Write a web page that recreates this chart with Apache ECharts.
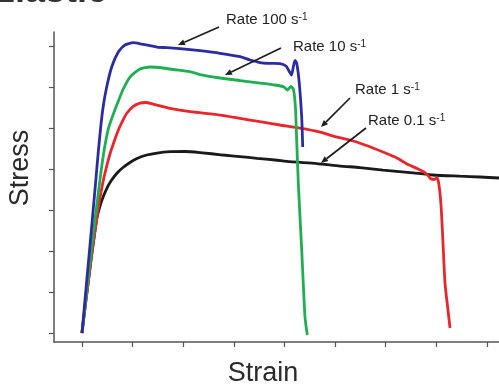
<!DOCTYPE html>
<html><head><meta charset="utf-8">
<script src="https://cdn.jsdelivr.net/npm/echarts@6/dist/echarts.min.js"></script>
<style>html,body{margin:0;padding:0;background:#fff}#c{width:499px;height:392px}</style>
</head><body><div id="c"></div>
<script>
// ---- data (strain, stress in arbitrary tick units) ----
const xTicks = [0, 1, 2, 3, 4, 5, 6, 7, 8];
const yTicks = [0, 1, 2, 3, 4, 5, 6, 7];
const xRange = [-0.553, 8.241];
const yRange = [-0.22, 7.36];

const rate100 = [[0,0],[0.099,1.345],[0.198,2.689],[0.277,3.790],[0.322,4.425],[0.366,4.988],[0.415,5.501],[0.484,5.990],[0.587,6.504],[0.717,6.870],[0.850,7.042],[1.008,7.098],[1.180,7.066],[1.344,7.029],[1.502,6.985],[1.680,6.980],[1.937,6.956],[2.332,6.902],[2.727,6.839],[3.123,6.756],[3.320,6.675],[3.518,6.614],[3.715,6.594],[3.913,6.589],[4.032,6.528],[4.091,6.406],[4.140,6.308],[4.176,6.504],[4.209,6.663],[4.243,6.601],[4.294,6.112],[4.342,5.281],[4.362,4.548]];
const rate10 = [[0,0],[0.079,0.856],[0.158,1.736],[0.237,2.567],[0.306,3.252],[0.375,3.936],[0.445,4.523],[0.524,5.012],[0.613,5.330],[0.711,5.648],[0.816,5.966],[0.949,6.259],[1.146,6.455],[1.344,6.504],[1.542,6.492],[1.798,6.443],[2.134,6.389],[2.332,6.320],[2.727,6.235],[3.123,6.173],[3.518,6.112],[3.814,6.064],[3.992,6.015],[4.061,5.941],[4.130,6.027],[4.180,5.954],[4.219,5.501],[4.239,4.841],[4.275,3.667],[4.342,2.029],[4.407,0.391],[4.453,-0.049]];
const rate1 = [[0,0],[0.059,0.611],[0.119,1.198],[0.178,1.785],[0.237,2.323],[0.296,2.836],[0.356,3.301],[0.415,3.692],[0.484,4.059],[0.553,4.377],[0.632,4.670],[0.711,4.939],[0.791,5.159],[0.889,5.379],[1.008,5.538],[1.146,5.623],[1.265,5.636],[1.403,5.599],[1.739,5.494],[2.134,5.411],[2.727,5.330],[3.123,5.249],[3.518,5.166],[3.913,5.086],[4.308,5.012],[4.704,4.914],[5.000,4.804],[5.296,4.719],[5.593,4.597],[5.949,4.425],[6.225,4.279],[6.423,4.132],[6.621,4.022],[6.759,3.936],[6.838,3.851],[6.887,3.778],[6.957,3.753],[7.016,3.802],[7.055,3.619],[7.095,3.130],[7.125,2.445],[7.174,1.222],[7.233,0.562],[7.273,0.122]];
const rate01 = [[0,0],[0.059,0.611],[0.119,1.198],[0.178,1.785],[0.237,2.323],[0.296,2.812],[0.356,3.105],[0.425,3.350],[0.494,3.545],[0.573,3.716],[0.686,3.900],[0.810,4.046],[0.949,4.169],[1.087,4.267],[1.279,4.352],[1.482,4.401],[1.739,4.433],[2.036,4.438],[2.332,4.413],[2.787,4.352],[3.123,4.315],[3.458,4.271],[3.814,4.230],[4.111,4.188],[4.638,4.144],[5.099,4.083],[5.494,4.046],[5.949,3.985],[6.482,3.924],[6.937,3.863],[7.470,3.834],[7.866,3.814],[8.241,3.790]];

const seriesNames = ['Rate 100', 'Rate 10', 'Rate 1', 'Rate 0.1'];
const seriesColors = ['#2c2ca2', '#1fae52', '#e8262c', '#1a1a1a'];
// annotation: label anchor, arrow start, arrow tip (data coords)
const annLabel = [[2.846, 7.653], [4.170, 6.993], [5.395, 5.941], [5.652, 5.183]];
const annFrom  = [[2.708, 7.482], [3.933, 6.968], [5.296, 5.746], [5.613, 5.012]];
const annTo    = [[1.897, 7.042], [2.826, 6.308], [4.723, 5.037], [4.723, 4.156]];
const titleText = 'Elastic';
const xName = 'Strain';
const yName = 'Stress';

const FONT = '"Liberation Sans", Arial, Helvetica, sans-serif';
const chart = echarts.init(document.getElementById('c'));
const axisCol = '#555';
const dataSets = [rate100, rate10, rate1, rate01];

chart.setOption({
  animation: false,
  backgroundColor: '#fff',
  grid: { left: 54, right: 0, top: 32, bottom: 50, containLabel: false, outerBoundsMode: 'none' },
  xAxis: {
    type: 'value', min: xRange[0], max: xRange[1],
    axisLine: { onZero: false, lineStyle: { color: axisCol, width: 1.5 } },
    axisTick: { show: true, customValues: xTicks, length: 5, lineStyle: { color: axisCol, width: 1.2 } },
    axisLabel: { show: false }, splitLine: { show: false }
  },
  yAxis: {
    type: 'value', min: yRange[0], max: yRange[1],
    axisLine: { show: true, onZero: false, lineStyle: { color: axisCol, width: 1.5 } },
    axisTick: { show: true, customValues: yTicks, length: 5, lineStyle: { color: axisCol, width: 1.2 } },
    axisLabel: { show: false }, splitLine: { show: false }
  },
  series: dataSets.map((d, i) => ({
    name: seriesNames[i], type: 'line', data: d, symbol: 'none', smooth: 0.2,
    clip: true, z: 10 - i,
    lineStyle: { color: seriesColors[i], width: 2.8 }
  }))
});

const px = (p) => chart.convertToPixel({ gridIndex: 0 }, p);
const graphics = [];
graphics.push({ type: 'text', x: -9, y: 10, style: { text: titleText, font: 'bold 36px ' + FONT, fill: '#333', align: 'left', verticalAlign: 'bottom', textAlign: 'left', textVerticalAlign: 'bottom' } });
graphics.push({ type: 'text', x: 263, y: 374, style: { text: xName, font: '27px ' + FONT, fill: '#2a2a2a', align: 'center', verticalAlign: 'middle', textAlign: 'center', textVerticalAlign: 'middle' } });
graphics.push({ type: 'text', x: 21, y: 168, rotation: Math.PI / 2, style: { text: yName, font: '27px ' + FONT, fill: '#2a2a2a', align: 'center', verticalAlign: 'middle', textAlign: 'center', textVerticalAlign: 'middle' } });

for (let i = 0; i < 4; i++) {
  const a = px(annFrom[i]), b = px(annTo[i]), l = px(annLabel[i]);
  const dx = b[0] - a[0], dy = b[1] - a[1], len = Math.hypot(dx, dy);
  const ux = dx / len, uy = dy / len;
  const hl = 7, hw = 3;
  const base = [b[0] - ux * hl, b[1] - uy * hl];
  graphics.push({ type: 'line', shape: { x1: a[0], y1: a[1], x2: base[0], y2: base[1] }, style: { stroke: '#1e1e1e', lineWidth: 1.7 }, z: 100 });
  graphics.push({ type: 'polygon', shape: { points: [b, [base[0] - uy * hw, base[1] + ux * hw], [base[0] + uy * hw, base[1] - ux * hw]] }, style: { fill: '#1e1e1e' }, z: 100 });
  graphics.push({ type: 'text', x: l[0], y: l[1], z: 100, style: {
    text: '{a|' + seriesNames[i] + ' s}{b|-1}', align: 'left', verticalAlign: 'middle', textAlign: 'left', textVerticalAlign: 'middle',
    rich: { a: { fontSize: 15, fontFamily: FONT, fill: '#222', verticalAlign: 'bottom' }, b: { fontSize: 10, fontFamily: FONT, fill: '#222', verticalAlign: 'top' } }
  } });
}
chart.setOption({ graphic: graphics });
</script>
</body></html>
